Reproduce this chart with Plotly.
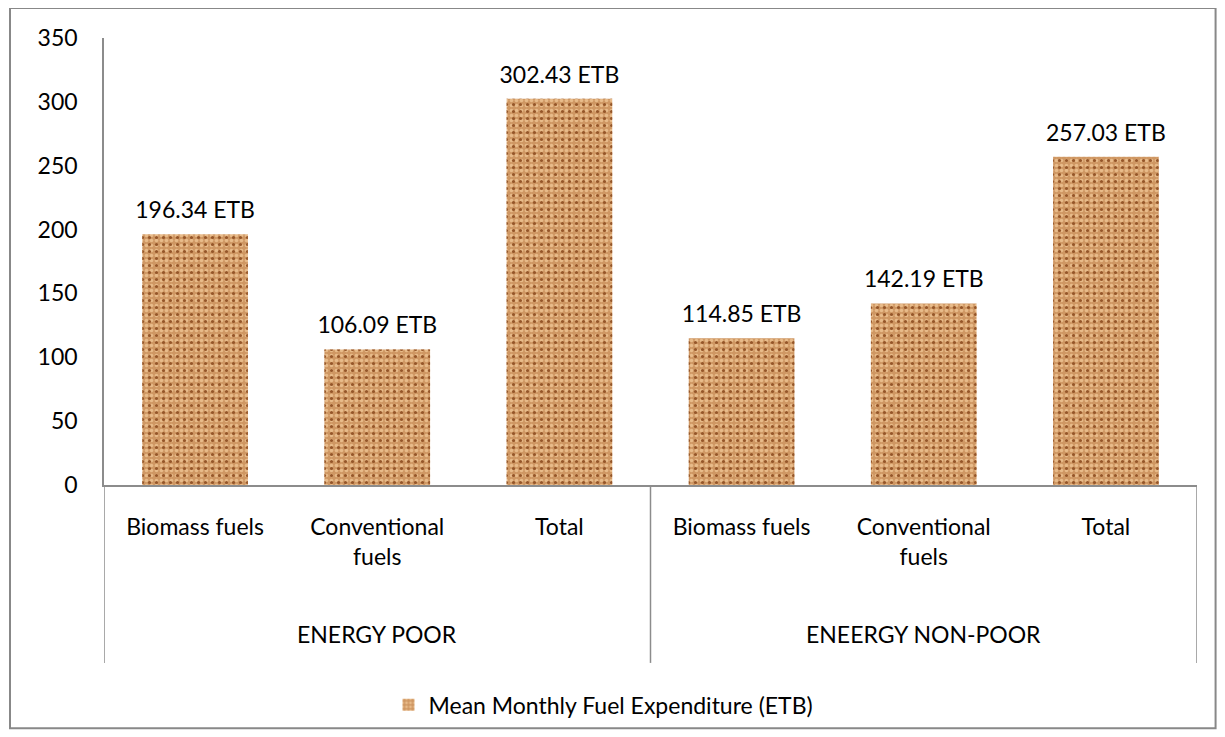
import plotly.graph_objects as go

groups = ["ENERGY POOR", "ENERGY POOR", "ENERGY POOR",
          "ENEERGY NON-POOR", "ENEERGY NON-POOR", "ENEERGY NON-POOR"]
categories = ["Biomass fuels", "Conventional<br>fuels", "Total",
              "Biomass fuels", "Conventional<br>fuels", "Total"]
values = [196.34, 106.09, 302.43, 114.85, 142.19, 257.03]
series_name = "Mean Monthly Fuel Expenditure (ETB)"

FONT = "Lato"
FS = 23
AXIS_GREY = "#8c8c8c"

xpos = list(range(len(values)))
labels = [f"{v:.2f} ETB" for v in values]

fig = go.Figure()

# cork-like bars: base with light flecks, then a sparser layer of dark flecks
fig.add_trace(go.Bar(
    x=xpos, y=values, name=series_name, width=0.58,
    marker=dict(
        color="#cf9763",
        line=dict(width=0),
        pattern=dict(shape=".", bgcolor="#cf9763", fgcolor="#e8bb8a",
                     size=5, solidity=0.4, fillmode="replace"),
    ),
    hoverinfo="skip",
))
fig.add_trace(go.Bar(
    x=xpos, y=values, width=0.58, showlegend=False,
    marker=dict(
        color="rgba(0,0,0,0)",
        line=dict(width=0),
        pattern=dict(shape=".", bgcolor="rgba(0,0,0,0)", fgcolor="#955629",
                     size=7, solidity=0.16, fillmode="replace"),
    ),
    hoverinfo="skip",
))

# value labels above bars
fig.add_trace(go.Scatter(
    x=xpos, y=values, mode="markers+text", text=labels,
    textposition="top center",
    textfont=dict(family=FONT, size=FS, color="#000"),
    marker=dict(size=15, opacity=0),
    showlegend=False, hoverinfo="skip", cliponaxis=False,
))

# group labels and dividers under the category axis
shapes = []
annotations = []
group_names = list(dict.fromkeys(groups))
bounds = [-0.5]
for g in group_names:
    idx = [i for i, gg in enumerate(groups) if gg == g]
    annotations.append(dict(
        x=sum(idx) / len(idx), y=-0.333, xref="x", yref="paper",
        text=g, showarrow=False, yanchor="middle",
        font=dict(family=FONT, size=FS, color="#000"),
    ))
    bounds.append(idx[-1] + 0.5)
for b in bounds:
    shapes.append(dict(type="line", xref="x", yref="paper",
                       x0=b, x1=b, y0=0, y1=-0.398,
                       line=dict(color=AXIS_GREY, width=1.5)))

# outer chart border
shapes.append(dict(type="rect", xref="paper", yref="paper",
                   x0=-0.086, x1=1.017, y0=1.067, y1=-0.544,
                   line=dict(color="#888888", width=2)))

fig.update_layout(
    width=1225, height=737,
    margin=dict(l=96, r=36, t=30, b=260),
    paper_bgcolor="white", plot_bgcolor="white",
    font=dict(family=FONT, size=FS, color="#000"),
    barmode="overlay",
    showlegend=True,
    legend=dict(orientation="h", x=0.457, xanchor="center",
                y=-0.492, yanchor="middle",
                font=dict(family=FONT, size=FS, color="#000")),
    xaxis=dict(
        range=[-0.5, len(values) - 0.5],
        tickmode="array", tickvals=xpos, ticktext=categories,
        showline=True, linecolor=AXIS_GREY, linewidth=1.5,
        ticks="", showgrid=False, zeroline=False,
        ticklabelstandoff=21, fixedrange=True,
    ),
    yaxis=dict(
        range=[0, 350], dtick=50,
        showline=True, linecolor=AXIS_GREY, linewidth=1.5,
        ticks="", showgrid=False, zeroline=False,
        ticklabelstandoff=20, fixedrange=True,
    ),
    shapes=shapes,
    annotations=annotations,
)

fig.write_html("out.html")
